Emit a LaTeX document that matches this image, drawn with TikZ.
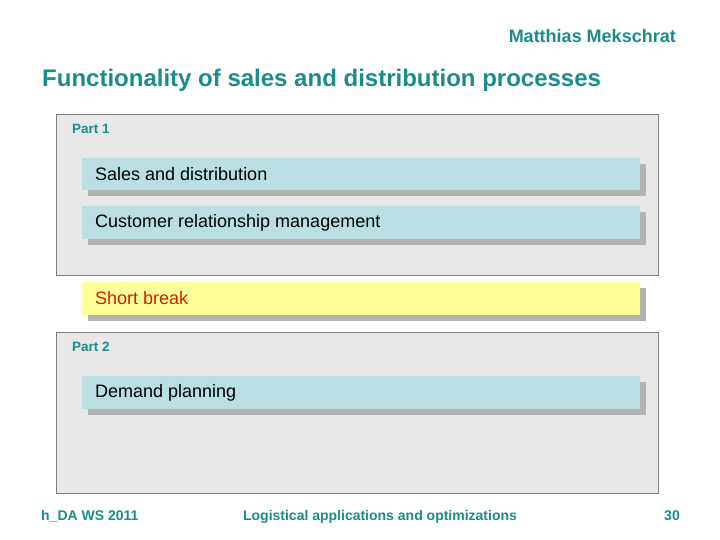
\documentclass[tikz,border=0pt]{standalone}
\usepackage{fontspec}
\setmainfont{Liberation Sans}
\definecolor{teal1}{HTML}{1A8C8C}
\definecolor{partfill}{HTML}{E8E8E8}
\definecolor{partdraw}{HTML}{808080}
\definecolor{topicfill}{HTML}{B9DFE3}
\definecolor{shadowc}{HTML}{B3B3B3}
\definecolor{breakfill}{HTML}{FFFF99}
\definecolor{breaktext}{HTML}{CC2200}
\tikzset{
  partbox/.style={draw=partdraw, fill=partfill, line width=0.8pt},
  topicshadow/.style={fill=shadowc, draw=none},
  topicbox/.style={fill=topicfill, draw=none},
  breakbox/.style={fill=breakfill, draw=none},
  topictext/.style={anchor=west, inner sep=0, font=\fontsize{18}{20}\selectfont, text=black},
  parttext/.style={anchor=west, inner sep=0, font=\fontsize{13.5}{15}\selectfont\bfseries, text=teal1},
  foottext/.style={inner sep=0, font=\fontsize{14}{16}\selectfont\bfseries, text=teal1}
}
\begin{document}
\begin{tikzpicture}[x=1pt,y=-1pt]
\useasboundingbox (0,0) rectangle (720,540);
\fill[white] (0,0) rectangle (720,540);
% header
\node[anchor=east, inner sep=0, font=\fontsize{18}{20}\selectfont\bfseries, text=teal1] (author) at (676,36) {Matthias Mekschrat};
\node[anchor=west, inner sep=0, font=\fontsize{24}{26}\selectfont\bfseries, text=teal1] (title) at (42,80) {Functionality of sales and distribution processes};
% part 1
\draw[partbox] (56,114) rectangle (658,275);
\node[parttext] (p1) at (72,129) {Part 1};
\fill[topicshadow] (88,164) rectangle (646,196);
\fill[topicbox] (82,158) rectangle (640,190);
\node[topictext] (t1) at (95,174) {Sales and distribution};
\fill[topicshadow] (88,212) rectangle (646,245);
\fill[topicbox] (82,206) rectangle (640,239);
\node[topictext] (t2) at (95,222.5) {Customer relationship management};
% short break
\fill[topicshadow] (88,288) rectangle (646,321);
\fill[breakbox] (82,282) rectangle (640,315);
\node[topictext, text=breaktext] (sb) at (95,298.5) {Short break};
% part 2
\draw[partbox] (56,332) rectangle (658,493);
\node[parttext] (p2) at (72,347) {Part 2};
\fill[topicshadow] (88,382) rectangle (646,415);
\fill[topicbox] (82,376) rectangle (640,409);
\node[topictext] (t3) at (95,392.5) {Demand planning};
% footer
\node[foottext, anchor=base west] (f1) at (41,520) {h\_DA WS 2011};
\node[foottext, anchor=base] (f2) at (380,520) {Logistical applications and optimizations};
\node[foottext, anchor=base east] (f3) at (680,520) {30};
\end{tikzpicture}
\end{document}
